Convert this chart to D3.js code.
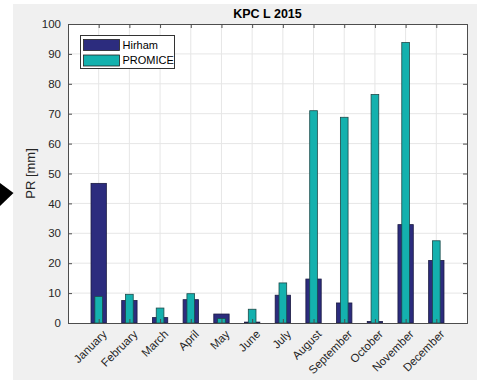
<!DOCTYPE html>
<html>
<head>
<meta charset="utf-8">
<script src="https://cdn.jsdelivr.net/npm/d3@7"></script>
<style>
  html, body { margin: 0; padding: 0; background: #ffffff; }
  svg { display: block; font-family: "Liberation Sans", Arial, Helvetica, sans-serif; }
</style>
</head>
<body>
<svg id="chart" width="477" height="381"></svg>
<script>
// Monthly precipitation at KPC L, 2015
const months = ["January","February","March","April","May","June","July","August","September","October","November","December"];
const hirham = [46.7, 7.5, 1.8, 7.8, 3.0, 0.3, 9.3, 14.7, 6.7, 0.5, 32.9, 20.9];
const promice = [8.9, 9.6, 5.0, 9.8, 1.5, 4.6, 13.4, 71.0, 68.8, 76.4, 93.8, 27.5];
const yTicks = [0, 10, 20, 30, 40, 50, 60, 70, 80, 90, 100];
const seriesNames = ["Hirham", "PROMICE"];

const colHirham = "#2c2c7e";
const colPromice = "#14b1ae";
const axisCol = "#4d4d4d";
const textCol = "#262626";

const svg = d3.select("#chart");

// figure background
svg.append("rect").attr("x", 13).attr("y", 4).attr("width", 464).attr("height", 376).attr("fill", "#f0f0f0");

// pointer arrow at the left edge
svg.append("path").attr("d", "M0,183 L13.5,193 L0,206 Z").attr("fill", "#000");

const m = { left: 68, right: 467, top: 24, bottom: 323 };
const x = d3.scaleLinear().domain([0, 13]).range([m.left, m.right]);
const y = d3.scaleLinear().domain([0, 100]).range([m.bottom, m.top]);

// plot area
svg.append("rect").attr("x", m.left).attr("y", m.top)
  .attr("width", m.right - m.left).attr("height", m.bottom - m.top).attr("fill", "#fff");

// grid
const grid = svg.append("g");
grid.selectAll("line.gx").data(months).join("line")
  .attr("x1", (d, i) => x(i + 1)).attr("x2", (d, i) => x(i + 1))
  .attr("y1", m.top).attr("y2", m.bottom)
  .attr("stroke", "#e6e6e6").attr("stroke-width", 1);
grid.selectAll("line.gy").data(yTicks.slice(1, -1)).join("line")
  .attr("x1", m.left).attr("x2", m.right)
  .attr("y1", d => y(d)).attr("y2", d => y(d))
  .attr("stroke", "#e6e6e6").attr("stroke-width", 1);

// bars: Hirham wide, PROMICE narrow and overlaid
svg.append("g").selectAll("rect").data(hirham).join("rect")
  .attr("x", (d, i) => x(i + 1 - 0.25)).attr("width", x(0.5) - x(0))
  .attr("y", d => y(d)).attr("height", d => y(0) - y(d))
  .attr("fill", colHirham).attr("stroke", "#1a1a40").attr("stroke-width", 0.8);
svg.append("g").selectAll("rect").data(promice).join("rect")
  .attr("x", (d, i) => x(i + 1 - 0.125)).attr("width", x(0.25) - x(0))
  .attr("y", d => y(d)).attr("height", d => y(0) - y(d))
  .attr("fill", colPromice).attr("stroke", "#1d4a4a").attr("stroke-width", 0.8);

// axes with inward ticks
const tickLen = 4;
const axL = d3.axisLeft(y).tickValues(yTicks).tickSize(-tickLen).tickPadding(7).tickFormat(d3.format("d"));
const axR = d3.axisRight(y).tickValues(yTicks).tickSize(-tickLen).tickFormat("");
const axB = d3.axisBottom(x).tickValues(d3.range(1, 13)).tickSize(-tickLen).tickFormat("");
const axT = d3.axisTop(x).tickValues(d3.range(1, 13)).tickSize(-tickLen).tickFormat("");

function styleAxis(g) {
  g.selectAll("path").attr("stroke", axisCol);
  g.selectAll("line").attr("stroke", axisCol);
  g.selectAll("text").attr("fill", textCol).style("font-size", "11.5px");
}
svg.append("g").attr("transform", `translate(${m.left},0)`).call(axL).call(styleAxis);
svg.append("g").attr("transform", `translate(${m.right},0)`).call(axR).call(styleAxis);
svg.append("g").attr("transform", `translate(0,${m.bottom})`).call(axB).call(styleAxis);
svg.append("g").attr("transform", `translate(0,${m.top})`).call(axT).call(styleAxis);
svg.selectAll(".domain").attr("stroke", axisCol);

// rotated month labels
svg.append("g").selectAll("text").data(months).join("text")
  .attr("transform", (d, i) => `translate(${x(i + 1) + 6},${m.bottom + 9}) rotate(-45)`)
  .attr("text-anchor", "end").attr("dy", "0.35em")
  .attr("fill", textCol).style("font-size", "11.5px")
  .text(d => d);

// y axis label
svg.append("text")
  .attr("transform", `translate(35,${(m.top + m.bottom) / 2}) rotate(-90)`)
  .attr("text-anchor", "middle").attr("fill", textCol).style("font-size", "13px")
  .text("PR [mm]");

// title
svg.append("text").attr("x", (m.left + m.right) / 2).attr("y", 18)
  .attr("text-anchor", "middle").attr("fill", "#000").style("font-size", "12.5px").style("font-weight", "bold")
  .text("KPC L 2015");

// legend
const lg = svg.append("g").attr("transform", "translate(80.5,35.5)");
lg.append("rect").attr("width", 94).attr("height", 33).attr("fill", "#fff").attr("stroke", "#333").attr("stroke-width", 1);
const cols = [colHirham, colPromice];
seriesNames.forEach((name, i) => {
  lg.append("rect").attr("x", 3).attr("y", 4 + i * 15.5).attr("width", 36).attr("height", 11)
    .attr("fill", cols[i]).attr("stroke", "#222").attr("stroke-width", 0.8);
  lg.append("text").attr("x", 42).attr("y", 9.5 + i * 15.5).attr("dy", "0.35em")
    .attr("fill", "#000").style("font-size", "11px").text(name);
});
</script>
</body>
</html>
